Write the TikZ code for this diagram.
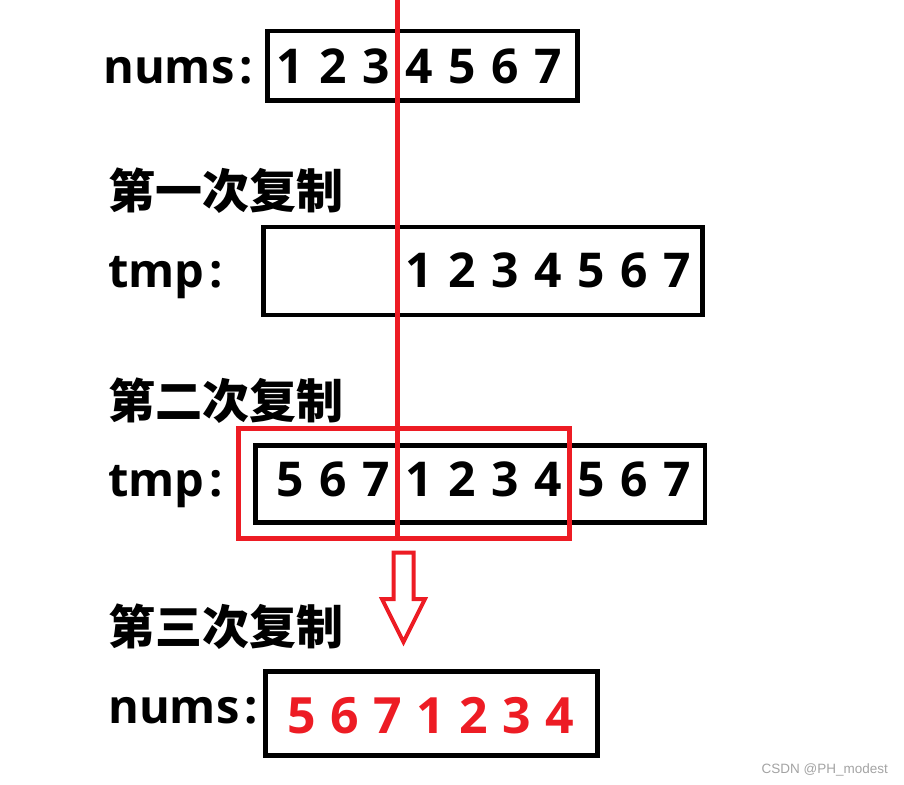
\documentclass[tikz,border=0pt]{standalone}
\usepackage{fontspec}
\setmainfont{Open Sans}
\newfontfamily\cjkfont{Noto Sans CJK SC}
\newfontfamily\markfont{Liberation Sans}
\definecolor{cutred}{HTML}{ED1C24}
\definecolor{markgray}{HTML}{A3A3A3}
\tikzset{
    block/.style = {
        draw,
        shape=rectangle,
        line width=4.5pt,
        inner sep=0pt
    },
    redblock/.style = {
        draw=cutred,
        shape=rectangle,
        line width=4.5pt,
        inner sep=0pt
    },
    rowname/.style = {
        anchor=base west,
        inner sep=0pt,
        font=\fontsize{47}{50}\selectfont\bfseries
    },
    heading/.style = {
        anchor=base west,
        inner sep=0pt,
        font=\fontsize{47}{50}\selectfont\cjkfont\bfseries
    },
    digit/.style = {
        anchor=base,
        inner sep=0pt,
        font=\fontsize{48}{50}\selectfont\bfseries
    },
}

\begin{document}
\begin{tikzpicture}[x=1pt, y=-1pt]
                \useasboundingbox (0,0) rectangle (904,784);

                % boxes
                \node[block, minimum width=310, minimum height=69.5] (nums) at (422.5,65.75) {};
                \node[block, minimum width=439, minimum height=88] (tmpa) at (483,271) {};
                \node[block, minimum width=449.5, minimum height=77] (tmpb) at (480.25,484) {};
                \node[block, minimum width=332, minimum height=84] (result) at (431.5,713.5) {};
                \node[redblock, minimum width=331, minimum height=110] (window) at (404,483.5) {};

                % row names and headings
                \node[rowname] (numsname) at (103,83) {nums\kern5pt:};
                \node[heading] (first) at (108,208) {第一次复制};
                \node[rowname] (tmpaname) at (108,287) {tmp\kern5pt:};
                \node[heading] (second) at (108,418) {第二次复制};
                \node[rowname] (tmpbname) at (108,496) {tmp\kern5pt:};
                \node[heading] (third) at (108,644) {第三次复制};
                \node[rowname] (resultname) at (108,723) {nums\kern5pt:};

                % digits
                \foreach \d [count=\i from 0] in {1,...,7}
                    \node[digit] (a\i) at (290+43*\i,83) {\d};
                \foreach \d [count=\i from 0] in {1,...,7}
                    \node[digit] (b\i) at (419+43*\i,287) {\d};
                \foreach \d [count=\i from 0] in {5,6,7,1,2,3,4,5,6,7}
                    \node[digit] (c\i) at (290+43*\i,496) {\d};
                \foreach \d [count=\i from 0] in {5,6,7,1,2,3,4}
                    \node[digit, text=cutred, font=\fontsize{50}{52}\selectfont\bfseries] (d\i) at (302+43*\i,733) {\d};

                % arrow
                \coordinate (arrowtop) at (403.5,552.5);
                \path[draw, cutred, line width=4pt] (arrowtop) ++(-10,0) -- ++(20,0) -- ++(0,46.5)
                    -- ++(11.5,0) -- ++(-21.5,43) -- ++(-21.5,-43) -- ++(11.5,0) -- cycle;

                % cut line
                \coordinate (cuttop) at (397.5,0);
                \path[draw, cutred, line width=4.5pt] (cuttop) -- (cuttop |- window.south);

                \node[anchor=base east, inner sep=0pt, text=markgray, font=\fontsize{13.5}{15}\selectfont\markfont] (mark) at (888,773) {CSDN @PH\_modest};
\end{tikzpicture}
\end{document}
